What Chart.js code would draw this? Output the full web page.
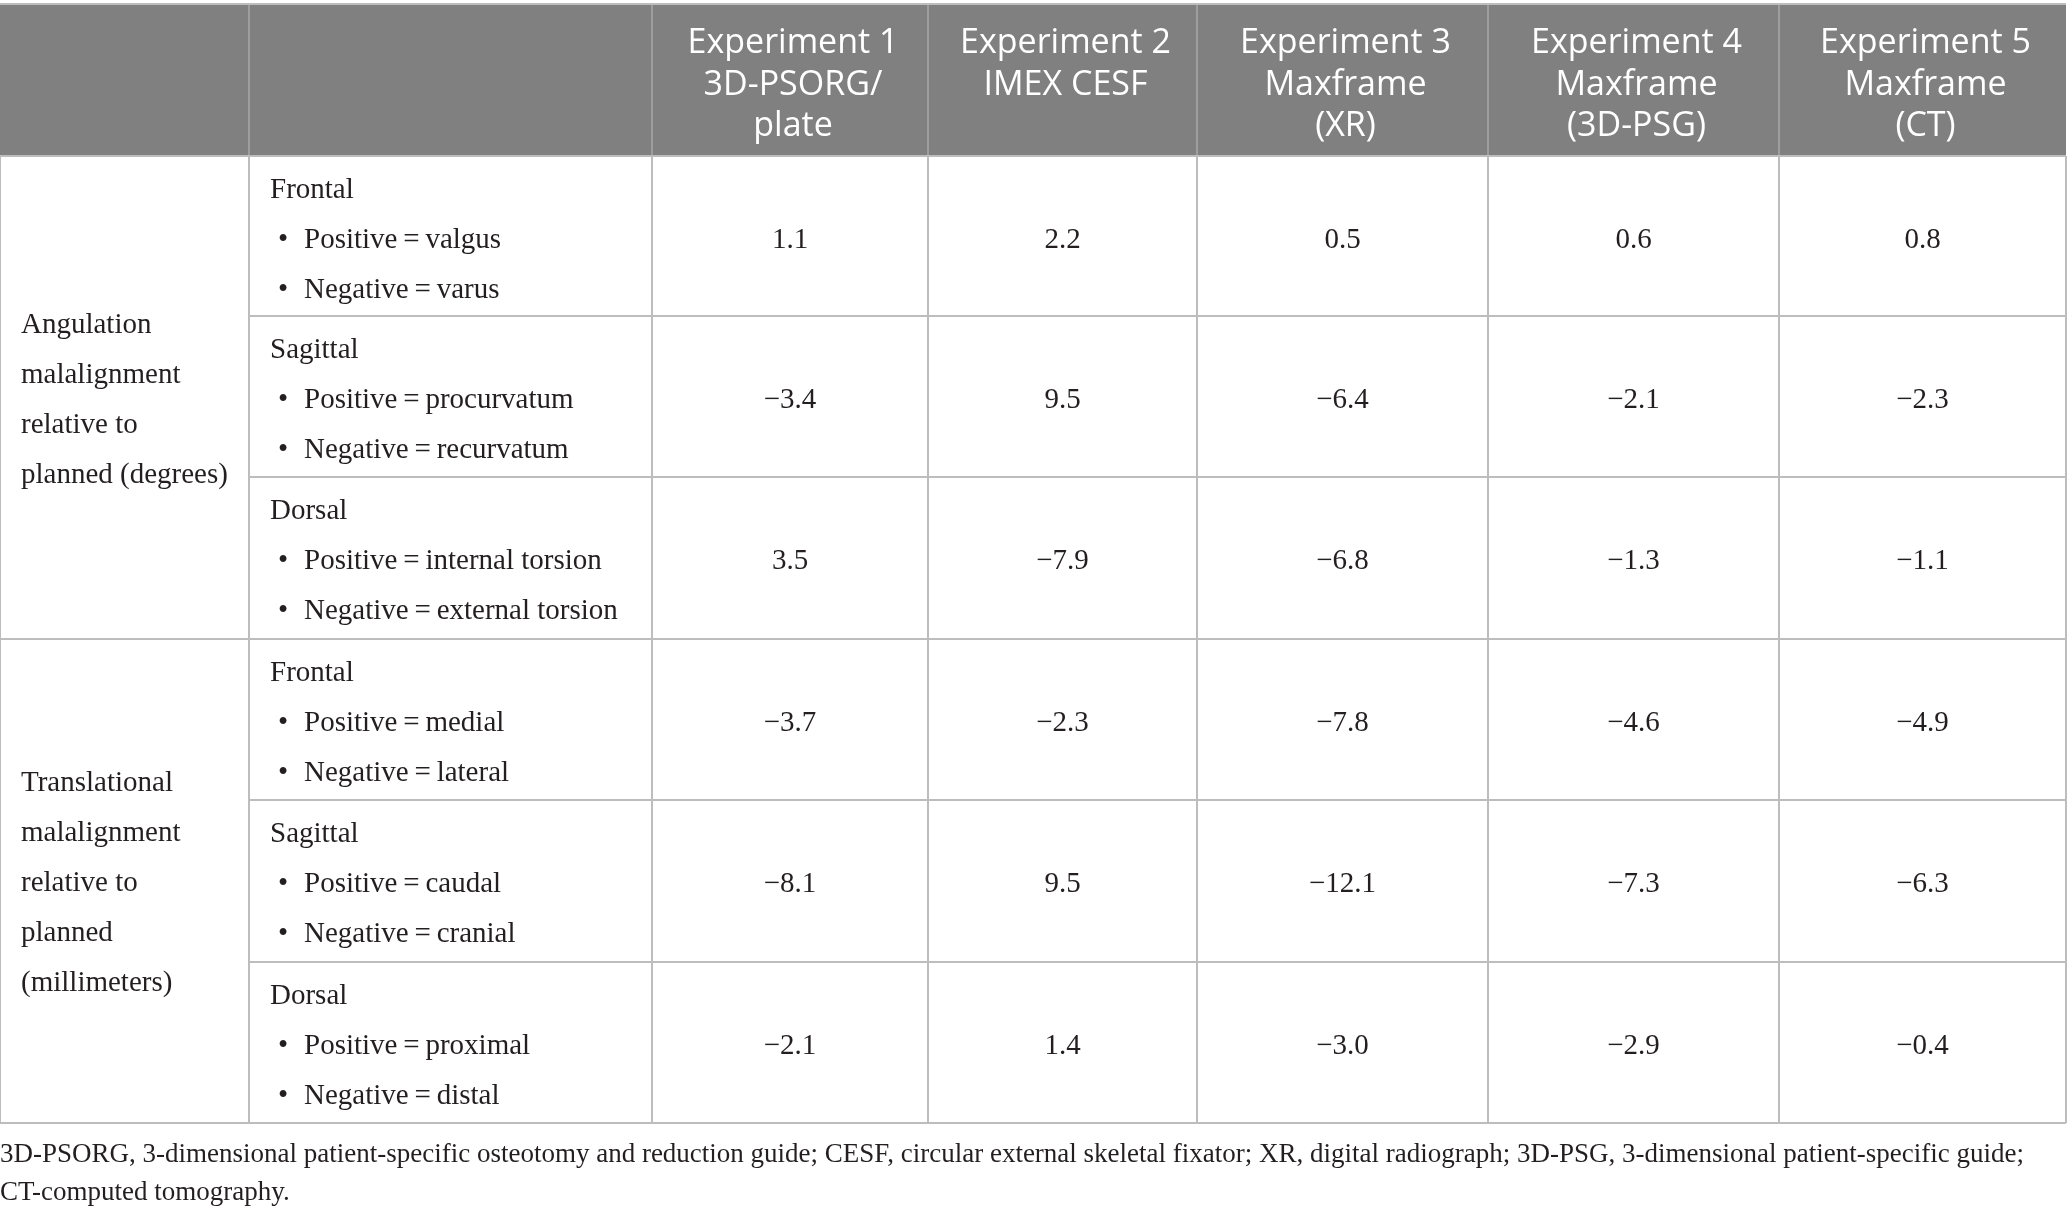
<!DOCTYPE html>
<html>
<head>
<meta charset="utf-8">
<script src="https://cdn.jsdelivr.net/npm/chart.js@4.4.1/dist/chart.umd.min.js"></script>
<style>
html,body{margin:0;padding:0;background:#ffffff;}
#wrap{width:2067px;height:1214px;}
</style>
</head>
<body>
<div id="wrap"><canvas id="c" width="2067" height="1214"></canvas></div>
<script>
// ---------- DATA ----------
const columnHeaders = [
  ["Experiment 1", "3D-PSORG/", "plate"],
  ["Experiment 2", "IMEX CESF"],
  ["Experiment 3", "Maxframe", "(XR)"],
  ["Experiment 4", "Maxframe", "(3D-PSG)"],
  ["Experiment 5", "Maxframe", "(CT)"]
];
const groupLabels = [
  ["Angulation", "malalignment", "relative to", "planned (degrees)"],
  ["Translational", "malalignment", "relative to", "planned", "(millimeters)"]
];
const planes = ["Frontal", "Sagittal", "Dorsal", "Frontal", "Sagittal", "Dorsal"];
const positiveLabels = ["valgus", "procurvatum", "internal torsion", "medial", "caudal", "proximal"];
const negativeLabels = ["varus", "recurvatum", "external torsion", "lateral", "cranial", "distal"];
const experiment1 = [1.1, -3.4, 3.5, -3.7, -8.1, -2.1];
const experiment2 = [2.2, 9.5, -7.9, -2.3, 9.5, 1.4];
const experiment3 = [0.5, -6.4, -6.8, -7.8, -12.1, -3.0];
const experiment4 = [0.6, -2.1, -1.3, -4.6, -7.3, -2.9];
const experiment5 = [0.8, -2.3, -1.1, -4.9, -6.3, -0.4];
const footnoteLines = [
  "3D-PSORG, 3-dimensional patient-specific osteotomy and reduction guide; CESF, circular external skeletal fixator; XR, digital radiograph; 3D-PSG, 3-dimensional patient-specific guide;",
  "CT-computed tomography."
];

// ---------- LAYOUT (scale units) ----------
const colEdges = [0, 249, 652, 928, 1197, 1488, 1779, 2066];
const rowEdges = [4, 156, 316, 477, 639, 800, 962, 1123];
const groupRowSpans = [[1, 4], [4, 7]];
const serif = '"Liberation Serif", "DejaVu Serif", serif';
const sans = '"Open Sans", "Noto Sans", sans-serif';
const textColor = '#231f20';

const allSeries = [experiment1, experiment2, experiment3, experiment4, experiment5];
const fmt = v => v.toFixed(1).replace('-', '\u2212');

const datasets = allSeries.map((vals, i) => ({
  label: columnHeaders[i][0],
  data: vals.map((v, r) => ({
    x: (colEdges[i + 2] + colEdges[i + 3]) / 2,
    y: rowEdges[r + 1] + 92,
    v: v
  })),
  pointRadius: 0,
  pointHoverRadius: 0,
  showLine: false
}));

const tablePlugin = {
  id: 'tableDraw',
  beforeDatasetsDraw(chart) {
    const { ctx, scales: { x, y } } = chart;
    const px = v => x.getPixelForValue(v);
    const py = v => y.getPixelForValue(v);
    ctx.save();
    // header background
    ctx.fillStyle = '#7f807f';
    ctx.fillRect(px(colEdges[0]), py(rowEdges[0]), px(colEdges[7]) - px(colEdges[0]), py(rowEdges[1]) - py(rowEdges[0]));
    // header separators
    ctx.strokeStyle = '#a8a8a8';
    ctx.lineWidth = 1.5;
    for (let c = 1; c < colEdges.length - 1; c++) {
      ctx.beginPath();
      ctx.moveTo(px(colEdges[c]), py(rowEdges[0]));
      ctx.lineTo(px(colEdges[c]), py(rowEdges[1]));
      ctx.stroke();
    }
    ctx.strokeStyle = '#bdbdbd';
    ctx.lineWidth = 2;
    // top border
    ctx.beginPath();
    ctx.moveTo(px(colEdges[0]), py(rowEdges[0]));
    ctx.lineTo(px(colEdges[7]), py(rowEdges[0]));
    ctx.stroke();
    // horizontal body lines
    for (let r = 1; r < rowEdges.length; r++) {
      const full = (r === 1 || r === 4 || r === 7);
      ctx.beginPath();
      ctx.moveTo(px(full ? colEdges[0] : colEdges[1]), py(rowEdges[r]));
      ctx.lineTo(px(colEdges[7]), py(rowEdges[r]));
      ctx.stroke();
    }
    // vertical body lines
    for (let c = 0; c < colEdges.length; c++) {
      ctx.beginPath();
      ctx.moveTo(px(colEdges[c]), py(rowEdges[1]));
      ctx.lineTo(px(colEdges[c]), py(rowEdges[7]));
      ctx.stroke();
    }
    // header text
    ctx.fillStyle = '#ffffff';
    ctx.font = '34px ' + sans;
    ctx.textAlign = 'center';
    ctx.textBaseline = 'alphabetic';
    columnHeaders.forEach((lines, i) => {
      const cx = px((colEdges[i + 2] + colEdges[i + 3]) / 2 + 3);
      lines.forEach((t, k) => ctx.fillText(t, cx, py(rowEdges[0] + 49 + k * 41.7)));
    });
    // group labels
    ctx.fillStyle = textColor;
    ctx.font = '29px ' + serif;
    ctx.textAlign = 'left';
    groupLabels.forEach((lines, g) => {
      const [a, b] = groupRowSpans[g];
      const center = (rowEdges[a] + rowEdges[b]) / 2;
      const first = center - (lines.length - 1) / 2 * 50 + 10;
      lines.forEach((t, k) => ctx.fillText(t, px(21), py(first + k * 50)));
    });
    // row descriptors
    planes.forEach((p, r) => {
      const top = rowEdges[r + 1];
      ctx.textAlign = 'left';
      ctx.fillText(p, px(270), py(top + 42));
      ctx.fillText('Positive\u2009=\u2009' + positiveLabels[r], px(304), py(top + 92));
      ctx.fillText('Negative\u2009=\u2009' + negativeLabels[r], px(304), py(top + 142));
      ctx.textAlign = 'center';
      ctx.fillText('\u2022', px(283), py(top + 92));
      ctx.fillText('\u2022', px(283), py(top + 142));
    });
    // footnote
    ctx.textAlign = 'left';
    ctx.font = '27px ' + serif;
    footnoteLines.forEach((t, k) => ctx.fillText(t, px(0), py(1162 + k * 38)));
    ctx.restore();
  },
  afterDatasetsDraw(chart) {
    const { ctx } = chart;
    ctx.save();
    ctx.fillStyle = textColor;
    ctx.font = '29px ' + serif;
    ctx.textAlign = 'center';
    ctx.textBaseline = 'alphabetic';
    chart.data.datasets.forEach((ds, i) => {
      const meta = chart.getDatasetMeta(i);
      meta.data.forEach((pt, j) => {
        ctx.fillText(fmt(ds.data[j].v), pt.x, pt.y);
      });
    });
    ctx.restore();
  }
};

new Chart(document.getElementById('c'), {
  type: 'scatter',
  data: { datasets },
  options: {
    responsive: false,
    devicePixelRatio: 1,
    animation: false,
    layout: { padding: 0 },
    plugins: { legend: { display: false }, tooltip: { enabled: false } },
    events: [],
    scales: {
      x: { type: 'linear', min: 0, max: 2067, display: false },
      y: { type: 'linear', min: 0, max: 1214, reverse: true, display: false }
    }
  },
  plugins: [tablePlugin]
});
</script>
</body>
</html>
